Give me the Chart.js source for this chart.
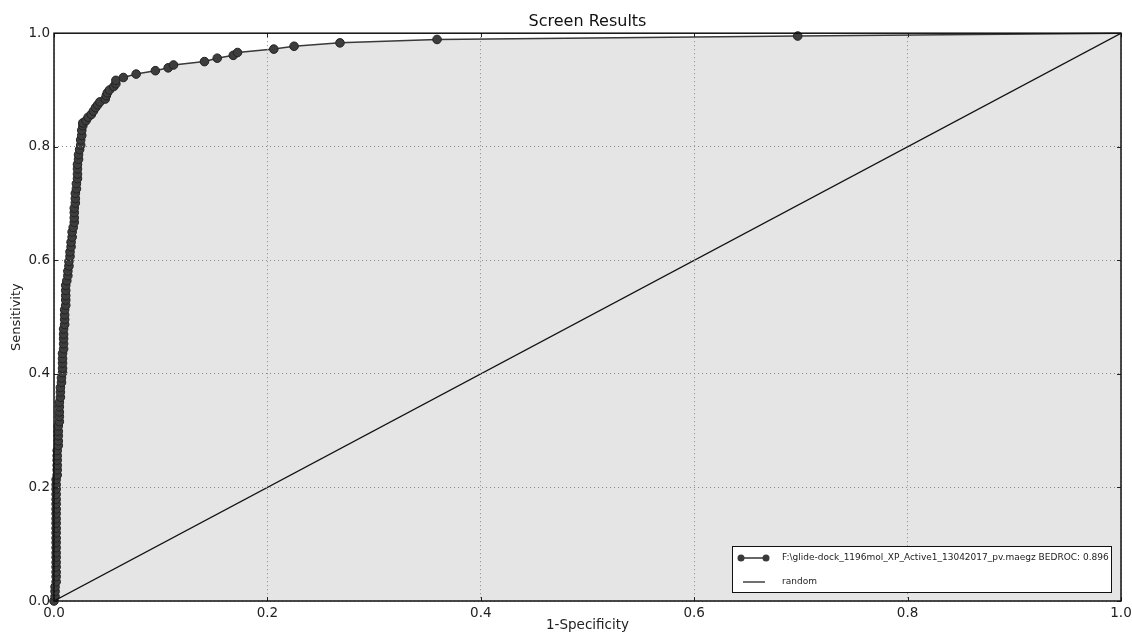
<!DOCTYPE html>
<html>
<head>
<meta charset="utf-8">
<script src="https://cdn.jsdelivr.net/npm/chart.js@4"></script>
<style>
  html, body { margin: 0; padding: 0; background: #fff; }
  #wrap { width: 1132px; height: 632px; }
</style>
</head>
<body>
<div id="wrap"><canvas id="roc" width="1132" height="632"></canvas></div>
<script>
// ROC curve points (1-Specificity, Sensitivity)
const fpr = [
  0.000, 0.001, 0.001, 0.001, 0.002, 0.002, 0.002, 0.002, 0.002, 0.002,
  0.002, 0.002, 0.002, 0.002, 0.002, 0.002, 0.002, 0.002, 0.002, 0.002,
  0.002, 0.002, 0.002, 0.002, 0.002, 0.002, 0.003, 0.003, 0.003, 0.003,
  0.003, 0.003, 0.004, 0.004, 0.004, 0.004, 0.004, 0.005, 0.005, 0.005,
  0.005, 0.005, 0.006, 0.006, 0.006, 0.007, 0.007, 0.008, 0.008, 0.008,
  0.008, 0.008, 0.009, 0.009, 0.009, 0.009, 0.009, 0.010, 0.010, 0.010,
  0.010, 0.011, 0.011, 0.011, 0.011, 0.011, 0.012, 0.013, 0.013, 0.014,
  0.014, 0.015, 0.015, 0.016, 0.016, 0.017, 0.017, 0.018, 0.019, 0.019,
  0.019, 0.019, 0.020, 0.020, 0.020, 0.021, 0.021, 0.022, 0.022, 0.022,
  0.022, 0.023, 0.023, 0.024, 0.025, 0.025, 0.026, 0.026, 0.027, 0.027,
  0.030, 0.032, 0.035, 0.037, 0.039, 0.041, 0.043, 0.048, 0.049, 0.050,
  0.052, 0.056, 0.058, 0.058, 0.065, 0.077, 0.095, 0.107, 0.112, 0.141,
  0.153, 0.168, 0.172, 0.206, 0.225, 0.268, 0.359, 0.697, 1.000
];
const tpr = [
  0.000, 0.008, 0.017, 0.025, 0.034, 0.043, 0.051, 0.060, 0.068, 0.077,
  0.085, 0.094, 0.103, 0.111, 0.120, 0.128, 0.137, 0.145, 0.154, 0.162,
  0.171, 0.179, 0.188, 0.197, 0.205, 0.214, 0.222, 0.231, 0.239, 0.248,
  0.256, 0.265, 0.274, 0.282, 0.291, 0.299, 0.308, 0.316, 0.325, 0.333,
  0.342, 0.350, 0.359, 0.368, 0.376, 0.385, 0.393, 0.402, 0.410, 0.419,
  0.427, 0.436, 0.444, 0.453, 0.462, 0.470, 0.479, 0.487, 0.496, 0.504,
  0.513, 0.521, 0.530, 0.538, 0.547, 0.556, 0.564, 0.573, 0.581, 0.590,
  0.598, 0.607, 0.615, 0.624, 0.632, 0.641, 0.650, 0.658, 0.667, 0.675,
  0.684, 0.692, 0.701, 0.709, 0.718, 0.726, 0.735, 0.744, 0.752, 0.761,
  0.769, 0.778, 0.786, 0.795, 0.803, 0.812, 0.820, 0.829, 0.837, 0.842,
  0.846, 0.852, 0.857, 0.863, 0.869, 0.874, 0.879, 0.884, 0.890, 0.895,
  0.900, 0.906, 0.911, 0.917, 0.922, 0.928, 0.934, 0.939, 0.944, 0.950,
  0.956, 0.961, 0.966, 0.972, 0.977, 0.983, 0.989, 0.995, 1.000
];
const randomX = [0, 1];
const randomY = [0, 1];
const tickValues = [0, 0.2, 0.4, 0.6, 0.8, 1.0];
const seriesName = 'F:\\glide-dock_1196mol_XP_Active1_13042017_pv.maegz BEDROC: 0.896';
const randomName = 'random';

const FONT = 'DejaVu Sans';

// matplotlib-like frame, inward ticks and legend box
const framePlugin = {
  id: 'frame',
  afterDraw(chart) {
    const ctx = chart.ctx;
    const a = chart.chartArea;
    const xs = chart.scales.x, ys = chart.scales.y;
    ctx.save();
    ctx.strokeStyle = '#222';
    ctx.lineWidth = 1;
    tickValues.forEach(v => {
      const px = Math.round(xs.getPixelForValue(v)) + 0.5;
      ctx.beginPath();
      ctx.moveTo(px, a.top); ctx.lineTo(px, a.top + 4);
      ctx.moveTo(px, a.bottom); ctx.lineTo(px, a.bottom - 4);
      ctx.stroke();
      const py = Math.round(ys.getPixelForValue(v)) + 0.5;
      ctx.beginPath();
      ctx.moveTo(a.left, py); ctx.lineTo(a.left + 4, py);
      ctx.moveTo(a.right, py); ctx.lineTo(a.right - 4, py);
      ctx.stroke();
    });
    ctx.lineWidth = 1.5;
    ctx.strokeStyle = '#111';
    ctx.strokeRect(a.left, a.top, a.right - a.left, a.bottom - a.top);

    // legend
    const bw = 379, bh = 46;
    const bx = a.right - 10 - bw, by = a.bottom - 9 - bh;
    ctx.fillStyle = '#fff';
    ctx.fillRect(bx, by, bw, bh);
    ctx.lineWidth = 1;
    ctx.strokeStyle = '#111';
    ctx.strokeRect(bx + 0.5, by + 0.5, bw, bh);
    const y1 = by + 12, y2 = by + 36;
    ctx.strokeStyle = '#333';
    ctx.lineWidth = 1.5;
    ctx.beginPath(); ctx.moveTo(bx + 9, y1); ctx.lineTo(bx + 34, y1); ctx.stroke();
    ctx.fillStyle = '#3a3a3a';
    [bx + 9, bx + 34].forEach(cx => {
      ctx.beginPath(); ctx.arc(cx, y1, 3.5, 0, Math.PI * 2); ctx.fill();
    });
    ctx.strokeStyle = '#111';
    ctx.lineWidth = 1.2;
    ctx.beginPath(); ctx.moveTo(bx + 11, y2); ctx.lineTo(bx + 33, y2); ctx.stroke();
    ctx.fillStyle = '#222';
    ctx.font = '9px "' + FONT + '"';
    ctx.textBaseline = 'middle';
    ctx.textAlign = 'left';
    ctx.fillText(seriesName, bx + 50, y1);
    ctx.fillText(randomName, bx + 50, y2);
    ctx.restore();
  }
};

const rocPoints = fpr.map((x, i) => ({ x: x, y: tpr[i] }));
const randomPoints = randomX.map((x, i) => ({ x: x, y: randomY[i] }));

new Chart(document.getElementById('roc').getContext('2d'), {
  type: 'line',
  data: {
    datasets: [{
      label: seriesName,
      data: rocPoints,
      borderColor: '#3a3a3a',
      borderWidth: 1.5,
      backgroundColor: '#e5e5e5',
      fill: 'origin',
      pointRadius: ctx => (ctx.dataIndex === rocPoints.length - 1 ? 0 : 4.3),
      pointBackgroundColor: '#3d3d3d',
      pointBorderColor: '#222',
      pointBorderWidth: 1,
      tension: 0,
      clip: 6,
      order: 1
    }, {
      label: randomName,
      data: randomPoints,
      borderColor: '#111',
      borderWidth: 1.2,
      pointRadius: 0,
      fill: false,
      order: 0
    }]
  },
  options: {
    responsive: false,
    animation: false,
    layout: { padding: { left: 0, right: 11, top: 0, bottom: 0 } },
    plugins: {
      legend: { display: false },
      tooltip: { enabled: false },
      title: {
        display: true,
        text: 'Screen Results',
        fullSize: false,
        color: '#111',
        font: { family: FONT, size: 16, weight: 'normal' },
        padding: { top: 12, bottom: 2 }
      }
    },
    scales: {
      x: {
        type: 'linear',
        min: 0, max: 1,
        afterFit: s => { s.height = 31; s.paddingLeft = 0; s.paddingRight = 0; },
        afterBuildTicks: s => { s.ticks = tickValues.map(v => ({ value: v })); },
        ticks: {
          color: '#222',
          padding: 4,
          font: { family: FONT, size: 13.5 },
          maxRotation: 0,
          callback: v => v.toFixed(1)
        },
        grid: { color: '#8a8a8a', drawTicks: false, z: 1 },
        border: { display: false, dash: [1, 3] },
        title: {
          display: true,
          text: '1-Specificity',
          color: '#222',
          font: { family: FONT, size: 13.5, lineHeight: 1 },
          padding: { top: 0, bottom: 0 }
        }
      },
      y: {
        type: 'linear',
        min: 0, max: 1,
        afterFit: s => { s.width = 54; s.paddingTop = 0; s.paddingBottom = 0; },
        afterBuildTicks: s => { s.ticks = tickValues.map(v => ({ value: v })); },
        ticks: {
          color: '#222',
          padding: 4,
          font: { family: FONT, size: 13.5 },
          callback: v => v.toFixed(1)
        },
        grid: { color: '#8a8a8a', drawTicks: false, z: 1 },
        border: { display: false, dash: [1, 3] },
        title: {
          display: true,
          text: 'Sensitivity',
          color: '#222',
          font: { family: FONT, size: 13 },
          padding: { top: 9, bottom: 0 }
        }
      }
    }
  },
  plugins: [framePlugin]
});
</script>
</body>
</html>
